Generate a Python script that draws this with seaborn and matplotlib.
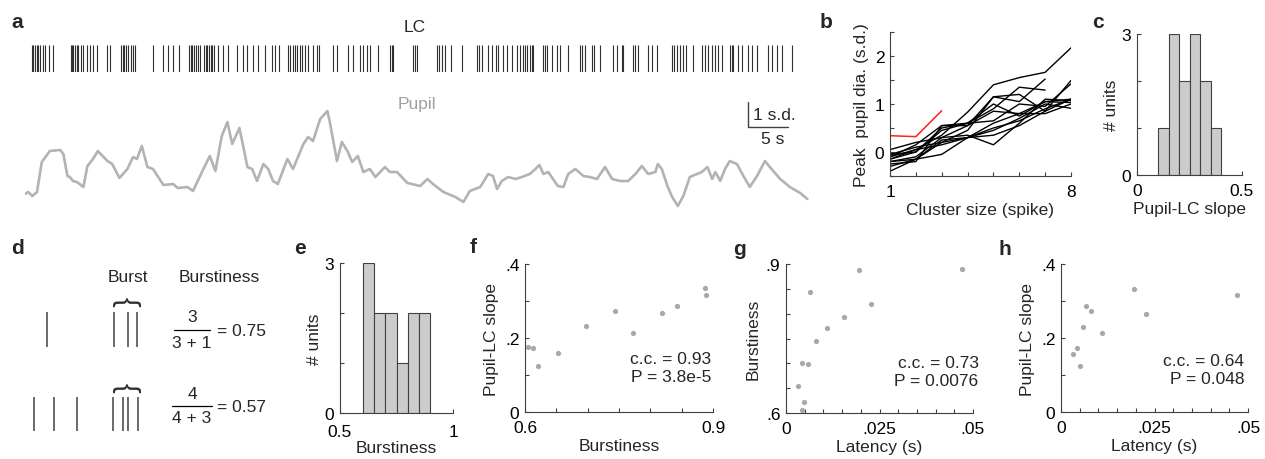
import matplotlib.pyplot as plt
import numpy as np
import pandas as pd
import seaborn as sns

# ---------------- data ----------------
# panel a : LC spike times (s) and pupil trace (s, s.d.)
lc_spikes = [0.9, 1.0, 1.25, 1.5, 1.6, 1.9, 2.25, 2.5, 3.0, 3.5,
             5.75, 5.9, 6.0, 6.25, 6.5, 6.6, 7.0, 7.25, 7.75, 8.1, 8.5, 9.0,
             10.25, 10.6, 12.0, 12.25, 12.4, 12.6, 12.9, 13.25, 13.5, 13.75,
             16.0, 17.25, 17.9, 18.5, 19.25,
             20.5, 20.75, 20.9, 21.1, 21.4, 21.6, 21.9, 22.4, 22.6, 22.75, 23.0, 23.25, 23.4, 23.6,
             24.1, 24.75, 25.4, 26.5, 27.25, 27.75, 28.5, 29.1, 30.0, 30.9, 31.25, 31.75,
             32.9, 33.1, 33.5, 33.75, 34.0, 34.4, 34.6, 35.0, 35.4, 36.0, 36.5, 36.75,
             38.5, 39.0, 40.4, 41.0, 41.9, 42.25, 42.75, 43.1, 44.1, 45.6, 45.9, 46.0,
             48.5, 48.75, 49.0, 51.5, 51.75, 52.1, 52.5, 53.25, 54.6, 56.5, 56.75, 57.1,
             57.9, 58.4, 58.9, 59.1, 59.75, 60.25, 60.9,
             61.5, 61.9, 62.25, 62.5, 62.75, 63.1, 63.4, 63.5, 64.75, 65.0, 65.25,
             65.9, 66.5, 66.9, 67.9, 69.4, 69.6, 70.0, 70.9, 71.1, 71.9,
             73.5, 74.0, 74.6, 74.75, 76.0, 76.25, 76.6, 77.9, 78.4, 79.0,
             80.9, 81.1, 81.5, 81.9, 82.25, 82.6, 83.5, 84.6, 85.0, 85.4, 85.9, 86.25, 86.6, 87.1,
             88.1, 88.4, 88.5, 89.1, 89.6, 90.4, 90.9, 91.5, 92.9, 93.4, 94.0, 94.6, 95.9]

pupil_t = [0.0, 0.4, 0.9, 1.5, 2.1, 3.1, 4.4, 4.8, 5.3, 5.6, 6.0, 6.5, 7.3, 7.8, 8.5, 9.1,
           10.3, 10.9, 11.8, 12.8, 13.5, 14.0, 14.6, 15.3, 16.0, 17.3, 18.5, 19.1, 20.3, 21.0,
           22.3, 23.1, 23.8, 24.6, 25.3, 25.9, 26.8, 27.3, 27.8, 28.4, 29.0, 29.8, 30.4, 31.0,
           31.6, 32.8, 33.5, 34.8, 35.4, 36.0, 36.9, 37.8, 38.1, 39.0, 39.6, 40.3, 40.9, 41.6,
           42.3, 43.1, 43.8, 45.0, 45.6, 46.5, 47.8, 49.4, 50.3, 51.0, 52.3, 53.8, 54.8, 55.6,
           56.9, 57.9, 58.5, 59.0, 59.6, 60.4, 61.3, 62.1, 63.1, 63.8, 64.3, 64.8, 65.4, 66.6,
           67.3, 67.9, 68.8, 69.8, 70.6, 71.5, 72.5, 73.4, 74.4, 75.4, 76.3, 77.1, 77.9, 78.8,
           79.1, 79.6, 80.3, 80.9, 81.6, 82.3, 83.1, 84.0, 84.6, 85.3, 85.9, 86.3, 86.9, 87.5,
           88.1, 89.0, 89.8, 90.6, 91.5, 92.5, 93.1, 94.4, 95.6, 96.9, 97.8]
pupil_sd = [0.2, 0.28, 0.12, 0.28, 1.48, 1.92, 1.96, 1.8, 0.92, 0.88, 0.72, 0.68, 0.48, 1.32, 1.6, 1.92,
            1.52, 1.4, 0.84, 1.2, 1.68, 1.6, 2.12, 1.28, 1.2, 0.56, 0.6, 0.44, 0.48, 0.32,
            1.2, 1.72, 1.12, 2.52, 3.08, 2.2, 2.84, 2.08, 1.28, 1.2, 0.72, 1.4, 1.2, 0.72,
            0.6, 1.6, 1.2, 2.2, 2.48, 2.32, 3.2, 3.52, 3.08, 1.52, 2.28, 1.92, 1.48, 1.72,
            1.08, 1.2, 0.88, 1.28, 1.08, 1.08, 0.64, 0.52, 0.8, 0.6, 0.28, 0.08, -0.12, 0.32,
            0.48, 1.0, 0.92, 0.4, 0.72, 0.88, 0.8, 0.88, 1.0, 1.2, 1.36, 1.0, 1.08, 0.52,
            0.48, 1.0, 1.2, 0.92, 0.88, 0.8, 1.28, 0.8, 0.72, 0.72, 1.0, 1.32, 1.0, 1.08,
            1.4, 1.2, 0.52, 0.08, -0.28, 0.12, 0.88, 1.0, 1.08, 1.28, 0.8, 1.08, 0.72, 1.2,
            1.52, 1.4, 0.92, 0.48, 0.92, 1.52, 1.28, 0.8, 0.48, 0.24, 0.0]

# panel b : peak pupil vs cluster size, one list per unit (nan = no data)
cluster_size = [1, 2, 3, 4, 5, 6, 7, 8]
peak_units = [
    [-0.10, 0.05, 0.35, 0.83, 1.40, 1.55, 1.66, 2.17],
    [-0.20, -0.10, 0.30, 0.55, 1.15, 1.05, 1.52, np.nan],
    [-0.15, 0.00, 0.50, 0.60, 0.90, 1.35, 1.29, np.nan],
    [-0.40, -0.15, 0.20, 0.45, 1.15, 1.20, 0.85, 1.49],
    [-0.25, -0.20, 0.55, 0.60, 0.65, 1.00, 0.95, 1.42],
    [0.05, 0.20, 0.30, 0.35, 0.15, 0.60, 1.10, 1.07],
    [-0.10, 0.15, 0.55, 0.55, 0.85, 0.80, 1.05, 1.03],
    [-0.05, 0.10, 0.20, 0.30, 0.45, 0.70, 1.00, 0.91],
    [-0.20, -0.15, -0.05, 0.30, 0.50, 0.65, 0.90, 1.10],
    [-0.15, 0.05, 0.15, 0.30, 0.60, 0.80, 0.80, 1.00],
    [-0.05, 0.00, 0.45, 0.60, 1.00, 0.75, 1.05, 1.10],
    [-0.30, -0.15, 0.25, 0.30, 0.35, 0.55, 0.85, 1.10],
]
red_size = [1, 2, 3]
red_peak = [0.34, 0.32, 0.86]

# panel c : histogram of pupil-LC slope
slope_edges = [0.10, 0.15, 0.20, 0.25, 0.30, 0.35, 0.40]
slope_counts = [1, 3, 2, 3, 2, 1]

# panel d : schematic spike trains
d_row1 = [47, 114, 128, 137]
d_row2 = [34, 54, 77, 113, 123, 128, 138]

# panel e : histogram of burstiness
burst_edges = [0.60, 0.65, 0.70, 0.75, 0.80, 0.85, 0.90]
burst_counts = [3, 2, 2, 1, 2, 2]

# panel f : burstiness vs slope
f_burst = [0.605, 0.613, 0.621, 0.653, 0.697, 0.743, 0.772, 0.818, 0.842, 0.887, 0.889]
f_slope = [0.175, 0.173, 0.124, 0.159, 0.232, 0.273, 0.213, 0.267, 0.287, 0.335, 0.317]

# panel g : latency vs burstiness
g_lat = [0.0031, 0.0044, 0.0049, 0.0044, 0.0058, 0.0065, 0.0080, 0.0109, 0.0154, 0.0196, 0.0228, 0.0471]
g_burst = [0.654, 0.701, 0.622, 0.607, 0.699, 0.843, 0.744, 0.772, 0.794, 0.887, 0.819, 0.889]

# panel h : latency vs slope
h_lat = [0.0033, 0.0044, 0.0051, 0.0060, 0.0067, 0.0081, 0.0110, 0.0195, 0.0228, 0.0470]
h_slope = [0.157, 0.173, 0.123, 0.231, 0.286, 0.272, 0.213, 0.333, 0.266, 0.316]

# ---------------- style ----------------
sns.set_style('ticks')
plt.rcParams['font.family'] = ['Liberation Sans', 'DejaVu Sans']
plt.rcParams['axes.linewidth'] = 0.8
plt.rcParams['axes.edgecolor'] = '#404040'

W, H = 1265, 460
DOT = '#a8a8a8'
FILL = '#cccccc'
TICK_FS = 12.5
LAB_FS = 12.5

fig = plt.figure(figsize=(W / 100, H / 100), dpi=100)


def px_axes(x0, y0, x1, y1):
    return fig.add_axes([x0 / W, 1 - y1 / H, (x1 - x0) / W, (y1 - y0) / H])


def style_axes(ax, xpad=6):
    sns.despine(ax=ax)
    ax.tick_params(direction='in', length=3, width=0.8, labelsize=TICK_FS, pad=4, colors='#404040',
                   labelcolor='black')
    ax.tick_params(axis='x', pad=xpad)


def letter(x, y, s):
    fig.text(x / W, 1 - y / H, s, fontsize=15, fontweight='bold', ha='center', va='center')


# ---------------- panel a ----------------
ax_r = px_axes(25, 46, 810, 73)
ax_r.vlines(lc_spikes, 0, 1, color='#303030', lw=0.8)
ax_r.set_xlim(0, 98.125)
ax_r.set_ylim(0, 1)
ax_r.axis('off')

ax_p = px_axes(25, 95, 810, 210)
sns.lineplot(x=pupil_t, y=pupil_sd, color='#b3b3b3', lw=1.9, ax=ax_p)
for ln in ax_p.lines:
    ln.set_solid_joinstyle('round')
ax_p.set_xlim(0, 98.125)
ax_p.set_ylim(-0.4, 4.2)
ax_p.axis('off')
# scale bar: 5 s by 1 s.d.
ax_p.plot([90.4, 90.4, 95.4], [3.88, 2.88, 2.88], color='#404040', lw=1)
ax_p.text(91.0, 3.4, '1 s.d.', fontsize=12.5, ha='left', va='center')
ax_p.text(93.4, 2.4, '5 s', fontsize=12.5, ha='center', va='center')

fig.text(415 / W, 1 - 28 / H, 'LC', fontsize=12.5, ha='center', va='center')
fig.text(417 / W, 1 - 105 / H, 'Pupil', fontsize=12.5, ha='center', va='center', color='#a0a0a0')

# ---------------- panel b ----------------
ax_b = px_axes(890, 33, 1071, 177)
for unit in peak_units:
    sns.lineplot(x=cluster_size, y=unit, color='black', lw=1, ax=ax_b)
sns.lineplot(x=red_size, y=red_peak, color='#ff2020', lw=1.1, ax=ax_b)
ax_b.set_xlim(1, 8)
ax_b.set_ylim(-0.5, 2.5)
ax_b.set_xticks(range(1, 9))
ax_b.set_xticklabels(['1', '', '', '', '', '', '', '8'])
ax_b.set_yticks(np.arange(-0.5, 2.6, 0.5))
ax_b.set_yticklabels(['', '0', '', '1', '', '2', ''])
ax_b.set_xlabel('Cluster size (spike)', fontsize=LAB_FS, labelpad=2)
ax_b.set_ylabel('Peak  pupil dia. (s.d.)', fontsize=LAB_FS, labelpad=4)
style_axes(ax_b)

# ---------------- panel c ----------------
ax_c = px_axes(1137, 35, 1242, 176)
slope_centers = np.convolve(slope_edges, [0.5, 0.5], 'valid')
sns.histplot(x=slope_centers, weights=slope_counts, bins=slope_edges, color=FILL,
             edgecolor='#404040', linewidth=0.8, alpha=1, ax=ax_c)
ax_c.set_xlim(0, 0.5)
ax_c.set_ylim(0, 3)
ax_c.set_xticks([0, 0.5])
ax_c.set_xticklabels(['0', '0.5'])
ax_c.set_yticks([0, 1, 2, 3])
ax_c.set_yticklabels(['0', '', '', '3'])
ax_c.set_xlabel('Pupil-LC slope', fontsize=LAB_FS, labelpad=2)
ax_c.set_ylabel('# units', fontsize=LAB_FS, labelpad=2)
style_axes(ax_c)

# ---------------- panel d ----------------
ax_d = px_axes(0, 230, 260, 460)
ax_d.set_xlim(0, 260)
ax_d.set_ylim(460, 230)
ax_d.axis('off')
ax_d.vlines(d_row1, 313, 348, color='#505050', lw=1.2)
ax_d.vlines(d_row2, 398, 432, color='#505050', lw=1.2)
ax_d.text(128, 278, 'Burst', fontsize=12.5, ha='center', va='center')
ax_d.text(219, 278, 'Burstiness', fontsize=12.5, ha='center', va='center')
for yc in (302, 388):
    ax_d.text(126, yc, '{', fontsize=21, rotation=-90, ha='center', va='center',
              color='#303030', fontweight='light')
ax_d.text(192, 318, '3', fontsize=12.5, ha='center', va='center')
ax_d.plot([174, 210], [331, 331], color='black', lw=0.9)
ax_d.text(192, 344, '3 + 1', fontsize=12.5, ha='center', va='center')
ax_d.text(217, 332, '= 0.75', fontsize=12.5, ha='left', va='center')
ax_d.text(192, 395, '4', fontsize=12.5, ha='center', va='center')
ax_d.plot([172, 212], [407, 407], color='black', lw=0.9)
ax_d.text(192, 419, '4 + 3', fontsize=12.5, ha='center', va='center')
ax_d.text(217, 408, '= 0.57', fontsize=12.5, ha='left', va='center')

# ---------------- panel e ----------------
ax_e = px_axes(340, 264, 453, 414)
burst_centers = np.convolve(burst_edges, [0.5, 0.5], 'valid')
sns.histplot(x=burst_centers, weights=burst_counts, bins=burst_edges, color=FILL,
             edgecolor='#404040', linewidth=0.8, alpha=1, ax=ax_e)
ax_e.set_xlim(0.5, 1)
ax_e.set_ylim(0, 3)
ax_e.set_xticks([0.5, 1])
ax_e.set_xticklabels(['0.5', '1'])
ax_e.set_yticks([0, 1, 2, 3])
ax_e.set_yticklabels(['0', '', '', '3'])
ax_e.set_xlabel('Burstiness', fontsize=LAB_FS, labelpad=1)
ax_e.set_ylabel('# units', fontsize=LAB_FS, labelpad=2)
style_axes(ax_e, xpad=8)

# ---------------- panels f, g, h ----------------
ax_f = px_axes(525, 265, 713, 413)
sns.scatterplot(x=f_burst, y=f_slope, color=DOT, s=14, linewidth=0, ax=ax_f)
ax_f.set_xlim(0.6, 0.9)
ax_f.set_ylim(0, 0.4)
ax_f.set_xticks(np.arange(0.6, 0.91, 0.05))
ax_f.set_xticklabels(['0.6', '', '', '', '', '', '0.9'])
ax_f.set_yticks([0, 0.1, 0.2, 0.3, 0.4])
ax_f.set_yticklabels(['0', '', '.2', '', '.4'])
ax_f.set_xlabel('Burstiness', fontsize=LAB_FS, labelpad=2)
ax_f.set_ylabel('Pupil-LC slope', fontsize=LAB_FS, labelpad=4)
ax_f.text(0.99, 0.3, 'c.c. = 0.93\nP = 3.8e-5', transform=ax_f.transAxes, fontsize=12.5,
          ha='right', va='center', linespacing=1.25)
style_axes(ax_f)

ax_g = px_axes(786, 265, 973, 414)
sns.scatterplot(x=g_lat, y=g_burst, color=DOT, s=14, linewidth=0, ax=ax_g)
ax_g.set_xlim(0, 0.05)
ax_g.set_ylim(0.6, 0.9)
ax_g.set_xticks(np.arange(0, 0.0501, 0.005))
ax_g.set_xticklabels(['0', '', '', '', '', '.025', '', '', '', '', '.05'])
ax_g.set_yticks(np.arange(0.6, 0.901, 0.05))
ax_g.set_yticklabels(['.6', '', '', '', '', '', '.9'])
ax_g.set_xlabel('Latency (s)', fontsize=LAB_FS, labelpad=2)
ax_g.set_ylabel('Burstiness', fontsize=LAB_FS, labelpad=4)
ax_g.text(1.03, 0.28, 'c.c. = 0.73\nP = 0.0076', transform=ax_g.transAxes, fontsize=12.5,
          ha='right', va='center', linespacing=1.25)
style_axes(ax_g)

ax_h = px_axes(1061, 265, 1248, 413)
sns.scatterplot(x=h_lat, y=h_slope, color=DOT, s=14, linewidth=0, ax=ax_h)
ax_h.set_xlim(0, 0.05)
ax_h.set_ylim(0, 0.4)
ax_h.set_xticks(np.arange(0, 0.0501, 0.005))
ax_h.set_xticklabels(['0', '', '', '', '', '.025', '', '', '', '', '.05'])
ax_h.set_yticks([0, 0.1, 0.2, 0.3, 0.4])
ax_h.set_yticklabels(['0', '', '.2', '', '.4'])
ax_h.set_xlabel('Latency (s)', fontsize=LAB_FS, labelpad=2)
ax_h.set_ylabel('Pupil-LC slope', fontsize=LAB_FS, labelpad=4)
ax_h.text(0.98, 0.29, 'c.c. = 0.64\nP = 0.048', transform=ax_h.transAxes, fontsize=12.5,
          ha='right', va='center', linespacing=1.25)
style_axes(ax_h)

# ---------------- panel letters ----------------
for (x, y, s) in [(17, 22, 'a'), (826, 22, 'b'), (1098, 22, 'c'), (17, 249, 'd'),
                  (300, 249, 'e'), (473, 248, 'f'), (740, 250, 'g'), (1005, 250, 'h')]:
    letter(x, y, s)

fig.savefig('out.png', dpi=100)
